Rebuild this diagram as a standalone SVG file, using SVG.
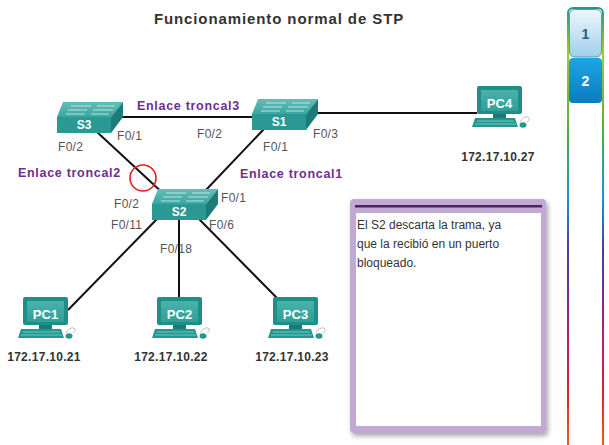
<svg xmlns="http://www.w3.org/2000/svg" width="609" height="445" viewBox="0 0 609 445">
<defs>
<style>
.lbl{font-family:"Liberation Sans",Arial,sans-serif;font-size:12px;fill:#555;letter-spacing:0.3px}
.trk{font-family:"Liberation Sans",Arial,sans-serif;font-size:12.5px;font-weight:bold;fill:#6b2f8f;letter-spacing:0.7px}
.ip{font-family:"Liberation Sans",Arial,sans-serif;font-size:12px;font-weight:bold;fill:#333;text-anchor:middle;letter-spacing:0.3px}
.sw{font-family:"Liberation Sans",Arial,sans-serif;font-size:12px;font-weight:bold;fill:#fff;text-anchor:middle}
.pct{font-family:"Liberation Sans",Arial,sans-serif;font-size:13px;font-weight:bold;fill:#fff;text-anchor:middle}
.ln{stroke:#111;stroke-width:2;fill:none}
.msg{font-family:"Liberation Sans",Arial,sans-serif;font-size:12px;fill:#333}
</style>
<linearGradient id="bar" x1="0" y1="8" x2="0" y2="445" gradientUnits="userSpaceOnUse">
<stop offset="0" stop-color="#1e9a88"/>
<stop offset="0.1" stop-color="#a8c828"/>
<stop offset="0.3" stop-color="#4aa848"/>
<stop offset="0.43" stop-color="#1898d0"/>
<stop offset="0.55" stop-color="#4a3e9e"/>
<stop offset="0.65" stop-color="#7a2a8e"/>
<stop offset="0.76" stop-color="#b8206a"/>
<stop offset="0.88" stop-color="#e0202e"/>
<stop offset="1" stop-color="#f05a22"/>
</linearGradient>
<linearGradient id="t1" x1="0" y1="0" x2="0" y2="1">
<stop offset="0" stop-color="#eef7fc"/>
<stop offset="1" stop-color="#9fcfec"/>
</linearGradient>
<linearGradient id="t2" x1="0" y1="0" x2="0" y2="1">
<stop offset="0" stop-color="#1ea4e4"/>
<stop offset="1" stop-color="#0a7cc0"/>
</linearGradient>
<linearGradient id="swtop" x1="0" y1="0" x2="0" y2="1">
<stop offset="0" stop-color="#62beb8"/>
<stop offset="1" stop-color="#3aa6a0"/>
</linearGradient>
<linearGradient id="scr" x1="0" y1="0" x2="0" y2="1">
<stop offset="0" stop-color="#48b3ab"/>
<stop offset="1" stop-color="#2f9f98"/>
</linearGradient>
<filter id="sh" x="-10%" y="-10%" width="125%" height="125%">
<feDropShadow dx="2" dy="3" stdDeviation="2.5" flood-color="#000" flood-opacity="0.35"/>
</filter>
<g id="switch">
<polygon points="0,0 6,-15 66,-15 54,0" fill="url(#swtop)"/>
<path d="M14,-11 H34 M40,-11 H58 M11,-7 H30 M36,-7 H56 M9,-3 H28 M34,-3 H52" stroke="#d8f0ee" stroke-width="1.2" opacity="0.8"/>
<rect x="0" y="0" width="54" height="16" fill="#2a9893"/>
<polygon points="54,0 66,-15 66,0 54,16" fill="#1d7c78"/>
</g>
<g id="pc">
<rect x="0" y="0" width="45" height="28" rx="2" fill="#1f8e88"/>
<rect x="4" y="4" width="37" height="21" rx="1" fill="url(#scr)"/>
<rect x="16" y="28" width="13" height="4" fill="#1a7a75"/>
<polygon points="-2,32 38,32 41,41 -5,41" fill="#249690"/>
<path d="M0,35 H37 M-2,38 H39" stroke="#6cc6be" stroke-width="1"/>
<path d="M43,36 q3,-6 8,-5 q3,2 -1,5" stroke="#bbb" stroke-width="1" fill="none"/>
<ellipse cx="46" cy="39" rx="3.5" ry="2.8" fill="#249690"/>
</g>
</defs>
<rect width="609" height="445" fill="#fff"/>

<text x="279" y="24" text-anchor="middle" font-family="'Liberation Sans',Arial,sans-serif" font-size="15" font-weight="bold" fill="#333" letter-spacing="0.9">Funcionamiento normal de STP</text>

<g id="connectors">
<line class="ln" x1="122" y1="117" x2="252" y2="117"/>
<line class="ln" x1="318" y1="113" x2="477" y2="113"/>
<line class="ln" x1="97" y1="132" x2="166" y2="196"/>
<line class="ln" x1="264" y1="129" x2="205" y2="191"/>
<line class="ln" x1="158" y1="218" x2="68" y2="310"/>
<line class="ln" x1="179" y1="218" x2="179" y2="297"/>
<line class="ln" x1="198" y1="218" x2="277" y2="298"/>
<circle cx="143" cy="178" r="13" fill="none" stroke="#e02020" stroke-width="1.6"/>
</g>

<g id="S3">
<use href="#switch" x="57" y="117"/>
<text class="sw" x="84" y="129">S3</text>
</g>
<g id="S1">
<use href="#switch" x="252" y="114"/>
<text class="sw" x="279" y="126">S1</text>
</g>
<g id="S2">
<use href="#switch" x="152" y="204"/>
<text class="sw" x="179" y="216">S2</text>
</g>

<g id="PC1">
<use href="#pc" x="23" y="297"/>
<text class="pct" x="45.5" y="319">PC1</text>
<text class="ip" x="44" y="361">172.17.10.21</text>
</g>
<g id="PC2">
<use href="#pc" x="157" y="297"/>
<text class="pct" x="179.5" y="319">PC2</text>
<text class="ip" x="171" y="361">172.17.10.22</text>
</g>
<g id="PC3">
<use href="#pc" x="273" y="297"/>
<text class="pct" x="295.5" y="319">PC3</text>
<text class="ip" x="292" y="361">172.17.10.23</text>
</g>
<g id="PC4">
<use href="#pc" x="477" y="86"/>
<text class="pct" x="499.5" y="108">PC4</text>
<text class="ip" x="498" y="161">172.17.10.27</text>
</g>

<g id="labels">
<text class="trk" x="137" y="110">Enlace troncal3</text>
<text class="trk" x="18" y="177">Enlace troncal2</text>
<text class="trk" x="240" y="178">Enlace troncal1</text>
<text class="lbl" x="117" y="140">F0/1</text>
<text class="lbl" x="58" y="151">F0/2</text>
<text class="lbl" x="197" y="138">F0/2</text>
<text class="lbl" x="263" y="151">F0/1</text>
<text class="lbl" x="313" y="138">F0/3</text>
<text class="lbl" x="114" y="208">F0/2</text>
<text class="lbl" x="221" y="202">F0/1</text>
<text class="lbl" x="111" y="229">F0/11</text>
<text class="lbl" x="209" y="229">F0/6</text>
<text class="lbl" x="160" y="253">F0/18</text>
</g>

<g id="message">
<rect x="350" y="199" width="196" height="234" rx="4" fill="#c2a9d3" filter="url(#sh)"/>
<rect x="355" y="205" width="187" height="2.5" fill="#4a2660"/>
<rect x="356" y="213" width="185" height="213" fill="#fff"/>
<text class="msg" x="357" y="229">El S2 descarta la trama, ya</text>
<text class="msg" x="357" y="248">que la recibió en un puerto</text>
<text class="msg" x="357" y="267">bloqueado.</text>
</g>

<g id="tabs">
<rect x="568" y="8" width="35" height="450" rx="5" fill="#fff" stroke="url(#bar)" stroke-width="2"/>
<rect x="569.5" y="9.5" width="32" height="47.5" rx="5" fill="url(#t1)" stroke="#5a9aaa" stroke-width="1"/>
<text x="585.5" y="39" text-anchor="middle" font-family="'Liberation Sans',Arial,sans-serif" font-size="14" font-weight="bold" fill="#1f5f8a">1</text>
<rect x="569" y="58" width="33" height="45" rx="4" fill="url(#t2)"/>
<text x="585.5" y="86" text-anchor="middle" font-family="'Liberation Sans',Arial,sans-serif" font-size="14" font-weight="bold" fill="#fff">2</text>
</g>
</svg>
